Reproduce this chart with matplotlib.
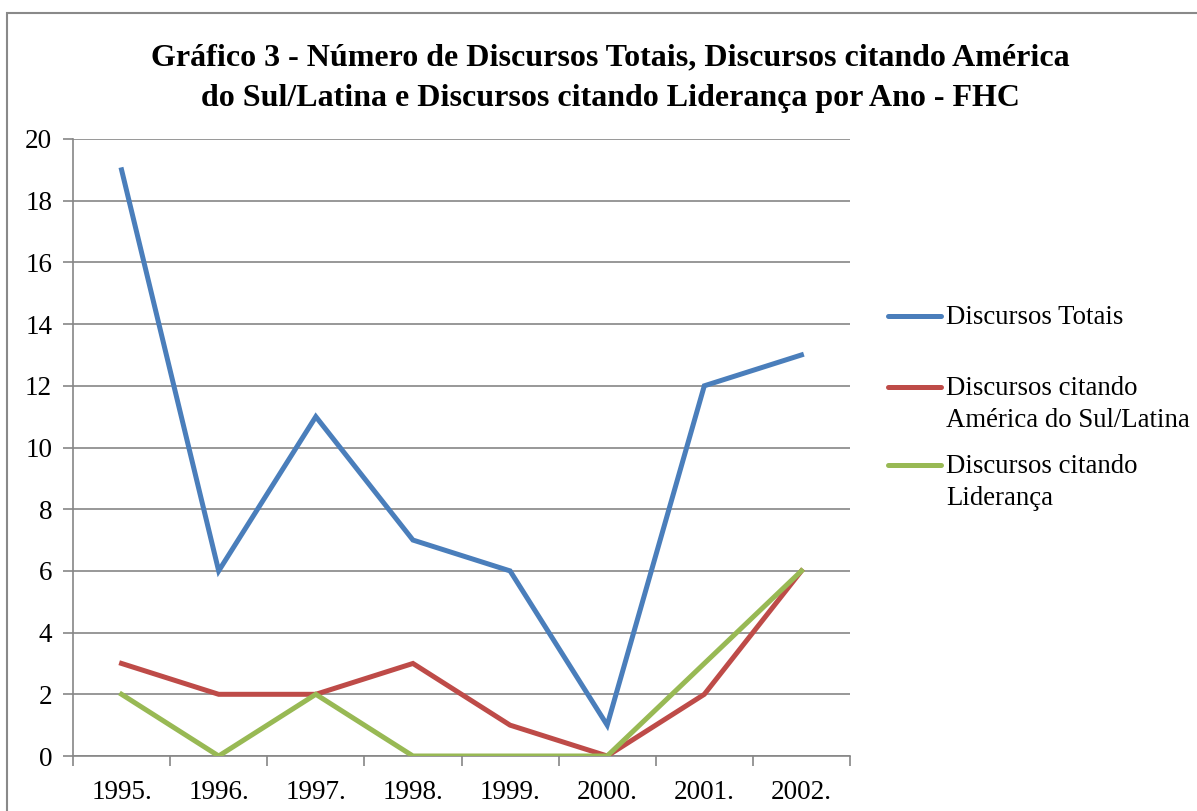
import numpy as np
import matplotlib.pyplot as plt
from matplotlib.lines import Line2D
from matplotlib.patches import Rectangle

plt.rcParams['font.family'] = ['Liberation Serif', 'DejaVu Serif']

anos = ['1995.', '1996.', '1997.', '1998.', '1999.', '2000.', '2001.', '2002.']
totais = [19, 6, 11, 7, 6, 1, 12, 13]
america = [3, 2, 2, 3, 1, 0, 2, 6]
lideranca = [2, 0, 2, 0, 0, 0, 3, 6]

nomes = ['Discursos Totais', 'Discursos citando\nAmérica do Sul/Latina', 'Discursos citando\nLiderança']
cores = ['#4A7EBB', '#BE4B48', '#98B954']

fig = plt.figure(figsize=(11.97, 8.11), dpi=100)
ax = fig.add_axes([73/1197, 55/811, 777/1197, 617/811])

x = np.arange(len(anos))
for serie, cor in zip([totais, america, lideranca], cores):
    ax.plot(x, serie, color=cor, lw=3.6, solid_joinstyle='miter', zorder=3)

ax.set_xlim(-0.5, len(anos) - 0.5)
ax.set_ylim(0, 20)
ax.set_yticks(np.arange(0, 21, 2))
ax.set_xticks(x)
ax.set_xticklabels(anos)
ax.tick_params(axis='x', length=0, pad=17, labelsize=19.5)
ax.set_xticks(np.arange(-0.5, len(anos)), minor=True)
ax.tick_params(axis='x', which='minor', length=7, color='#868686', width=1.2)
ax.tick_params(axis='y', length=7, color='#868686', width=1.2, labelsize=19.5, pad=8)
ax.grid(axis='y', color='#868686', lw=1.2)
ax.set_axisbelow(True)
for s in ['top', 'right']:
    ax.spines[s].set_visible(False)
for s in ['left', 'bottom']:
    ax.spines[s].set_color('#868686')
    ax.spines[s].set_linewidth(1.2)

fig.text(610/1197, 1 - 78/811,
         'Gráfico 3 - Número de Discursos Totais, Discursos citando América\n'
         'do Sul/Latina e Discursos citando Liderança por Ano - FHC',
         ha='center', va='center', fontsize=23, fontweight='bold', linespacing=1.52)

# legenda
leg_y = [316, 387, 465]
for nome, cor, yy in zip(nomes, cores, leg_y):
    fy = 1 - yy/811
    fig.add_artist(Line2D([888/1197, 941/1197], [fy, fy], color=cor, lw=3.6,
                          solid_capstyle='round', transform=fig.transFigure))
    fig.text(946/1197, fy + 11/811, nome, ha='left', va='top', fontsize=19.3,
             linespacing=1.36)

fig.add_artist(Rectangle((7/1197, -0.05), 1.2, 1 - 13/811 + 0.05, transform=fig.transFigure,
                         fill=False, edgecolor='#898989', lw=1.5))

fig.savefig('out.png', dpi=100)
